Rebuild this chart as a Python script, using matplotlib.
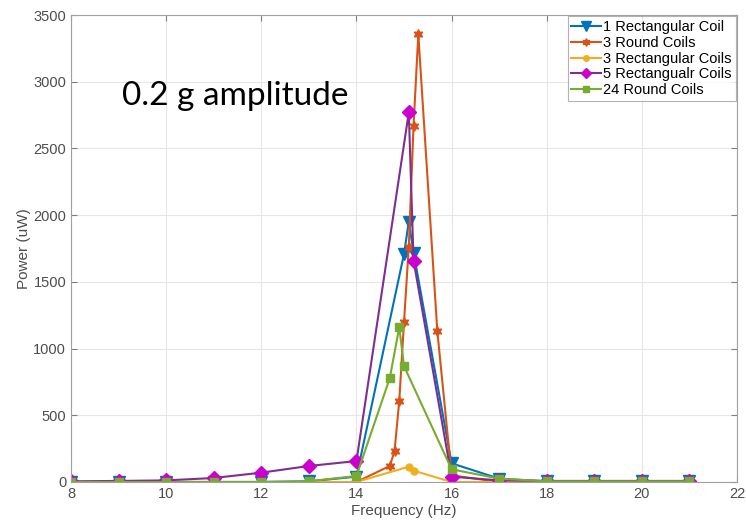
import numpy as np
import matplotlib
matplotlib.use('Agg')
import matplotlib.pyplot as plt

# Data (Frequency in Hz, power in uW)
freq_base = [8, 9, 10, 11, 12, 13, 14]
freq_tail = [16, 17, 18, 19, 20, 21]

rect1_f = freq_base + [15.0, 15.1, 15.2] + freq_tail
rect1_p = [0, 0, 0, 0, 0, 5, 40, 1710, 1950, 1720, 140, 25, 5, 5, 5, 5]

round3_f = freq_base + [14.7, 14.8, 14.9, 15.0, 15.1, 15.2, 15.3, 15.7] + freq_tail
round3_p = [0, 0, 0, 0, 0, 0, 0, 120, 230, 610, 1200, 1765, 2670, 3355, 1130, 50, 0, 0, 0, 0, 0]

rect3_f = freq_base + [15.1, 15.2] + freq_tail
rect3_p = [0, 0, 0, 0, 0, 0, 0, 115, 85, 0, 0, 0, 0, 0, 0]

rect5_f = freq_base + [15.1, 15.2] + freq_tail
rect5_p = [5, 8, 12, 30, 70, 120, 157, 2770, 1660, 40, 12, 8, 8, 8, 8]

round24_f = freq_base + [14.7, 14.9, 15.0] + freq_tail
round24_p = [0, 0, 0, 0, 0, 5, 45, 778, 1160, 868, 95, 25, 5, 5, 5, 5]

labels = ['1 Rectangular Coil', '3 Round Coils', '3 Rectangular Coils',
          '5 Rectangualr Coils', '24 Round Coils']

plt.rcParams['font.family'] = ['Liberation Sans', 'DejaVu Sans']

fig = plt.figure(figsize=(7.46, 5.27), dpi=100)
ax = fig.add_axes([0.0952, 0.0854, 0.8928, 0.8861])

ax.plot(rect1_f, rect1_p, color='#0072BD', lw=1.5, marker='v', ms=9,
        label=labels[0])
ax.plot(round3_f, round3_p, color='#D95319', lw=1.5, marker=(6, 1, 0), ms=7,
        label=labels[1])
ax.plot(rect3_f, rect3_p, color='#EDB120', lw=1.5, marker='o', ms=5,
        label=labels[2])
ax.plot(rect5_f, rect5_p, color='#7E2F8E', lw=1.5, marker='D', ms=7,
        mfc='#CC00CC', mec='#CC00CC', label=labels[3])
ax.plot(round24_f, round24_p, color='#77AC30', lw=1.5, marker='s', ms=6,
        label=labels[4])

ax.set_xlim(8, 22)
ax.set_ylim(0, 3500)
ax.set_xticks(np.arange(8, 23, 2))
ax.set_yticks(np.arange(0, 3501, 500))
ax.grid(True, color='#e6e6e6', lw=0.8)
ax.set_axisbelow(True)
ax.tick_params(direction='in', top=True, right=True, colors='#7f7f7f',
               labelcolor='#4d4d4d', labelsize=10.5, length=4)
for s in ax.spines.values():
    s.set_color('#a0a0a0')
ax.set_xlabel('Frequency (Hz)', fontsize=11, color='#4d4d4d', labelpad=2)
ax.set_ylabel('Power (uW)', fontsize=11, color='#4d4d4d', labelpad=2)

ax.text(0.076, 0.826, '0.2 g amplitude', transform=ax.transAxes,
        fontsize=24, family=['Lato', 'DejaVu Sans'], color='black',
        va='center', ha='left')

leg = ax.legend(loc='upper right', fontsize=10.5, frameon=True, fancybox=False,
                borderaxespad=0.1, handlelength=2.0, handletextpad=0.2,
                labelspacing=0.12, borderpad=0.25, markerscale=0.8)
leg.get_frame().set_edgecolor('#a0a0a0')
leg.get_frame().set_linewidth(0.8)

fig.savefig('out.png', dpi=100)
